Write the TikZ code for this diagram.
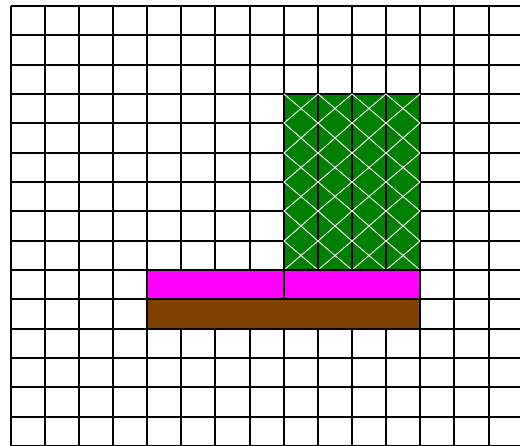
\documentclass[tikz,border=0pt]{standalone}
\definecolor{leafgreen}{RGB}{0,128,0}
\definecolor{soilbrown}{RGB}{128,64,0}
\definecolor{pinkband}{RGB}{255,0,255}
\tikzset{
  gridline/.style={black,line width=1.8pt},
  blockedge/.style={draw=black,line width=1.8pt},
  hatchline/.style={white,line width=0.9pt},
}
\begin{document}
\begin{tikzpicture}[x=1pt,y=-1pt]
\def\xo{10.5}\def\dx{34.15}
\def\yo{6}\def\dy{29.33}
\useasboundingbox (0,0) rectangle (520,446);
\fill[white] (0,0) rectangle (520,446);
% grid
\foreach \i in {0,...,15} {
  \pgfmathsetmacro{\gx}{round(\xo+\i*\dx)}
  \draw[gridline] (\gx,\yo) -- (\gx,{\yo+15*\dy});
}
\foreach \j in {0,...,15} {
  \pgfmathsetmacro{\gy}{round(\yo+\j*\dy)}
  \draw[gridline] (\xo,\gy) -- ({\xo+15*\dx},\gy);
}
% snapped coordinates
\pgfmathsetmacro{\xa}{round(\xo+4*\dx)}
\pgfmathsetmacro{\xb}{round(\xo+8*\dx)}
\pgfmathsetmacro{\xc}{round(\xo+12*\dx)}
\pgfmathsetmacro{\ya}{round(\yo+3*\dy)}
\pgfmathsetmacro{\yb}{round(\yo+9*\dy)}
\pgfmathsetmacro{\yc}{round(\yo+10*\dy)}
\pgfmathsetmacro{\yd}{round(\yo+11*\dy)}
% green block
\fill[leafgreen] (\xb,\ya) rectangle (\xc,\yb);
\foreach \i in {8,...,12} {
  \pgfmathsetmacro{\gx}{round(\xo+\i*\dx)}
  \draw[gridline] (\gx,\ya) -- (\gx,\yb);
}
\draw[gridline] (\xb,\ya) -- (\xc,\ya);
\foreach \i in {8,...,11} {
  \foreach \j in {3,...,8} {
    \pgfmathsetmacro{\pa}{round(\xo+\i*\dx)}
    \pgfmathsetmacro{\pb}{round(\xo+(\i+1)*\dx)}
    \pgfmathsetmacro{\qa}{round(\yo+\j*\dy)}
    \pgfmathsetmacro{\qb}{round(\yo+(\j+1)*\dy)}
    \draw[hatchline] (\pa,\qa) -- (\pb,\qb);
    \draw[hatchline] (\pb,\qa) -- (\pa,\qb);
  }
}
% magenta band
\filldraw[fill=pinkband,blockedge] (\xa,\yb) rectangle (\xb,\yc);
\filldraw[fill=pinkband,blockedge] (\xb,\yb) rectangle (\xc,\yc);
% brown band
\filldraw[fill=soilbrown,blockedge] (\xa,\yc) rectangle (\xc,\yd);
\end{tikzpicture}
\end{document}
